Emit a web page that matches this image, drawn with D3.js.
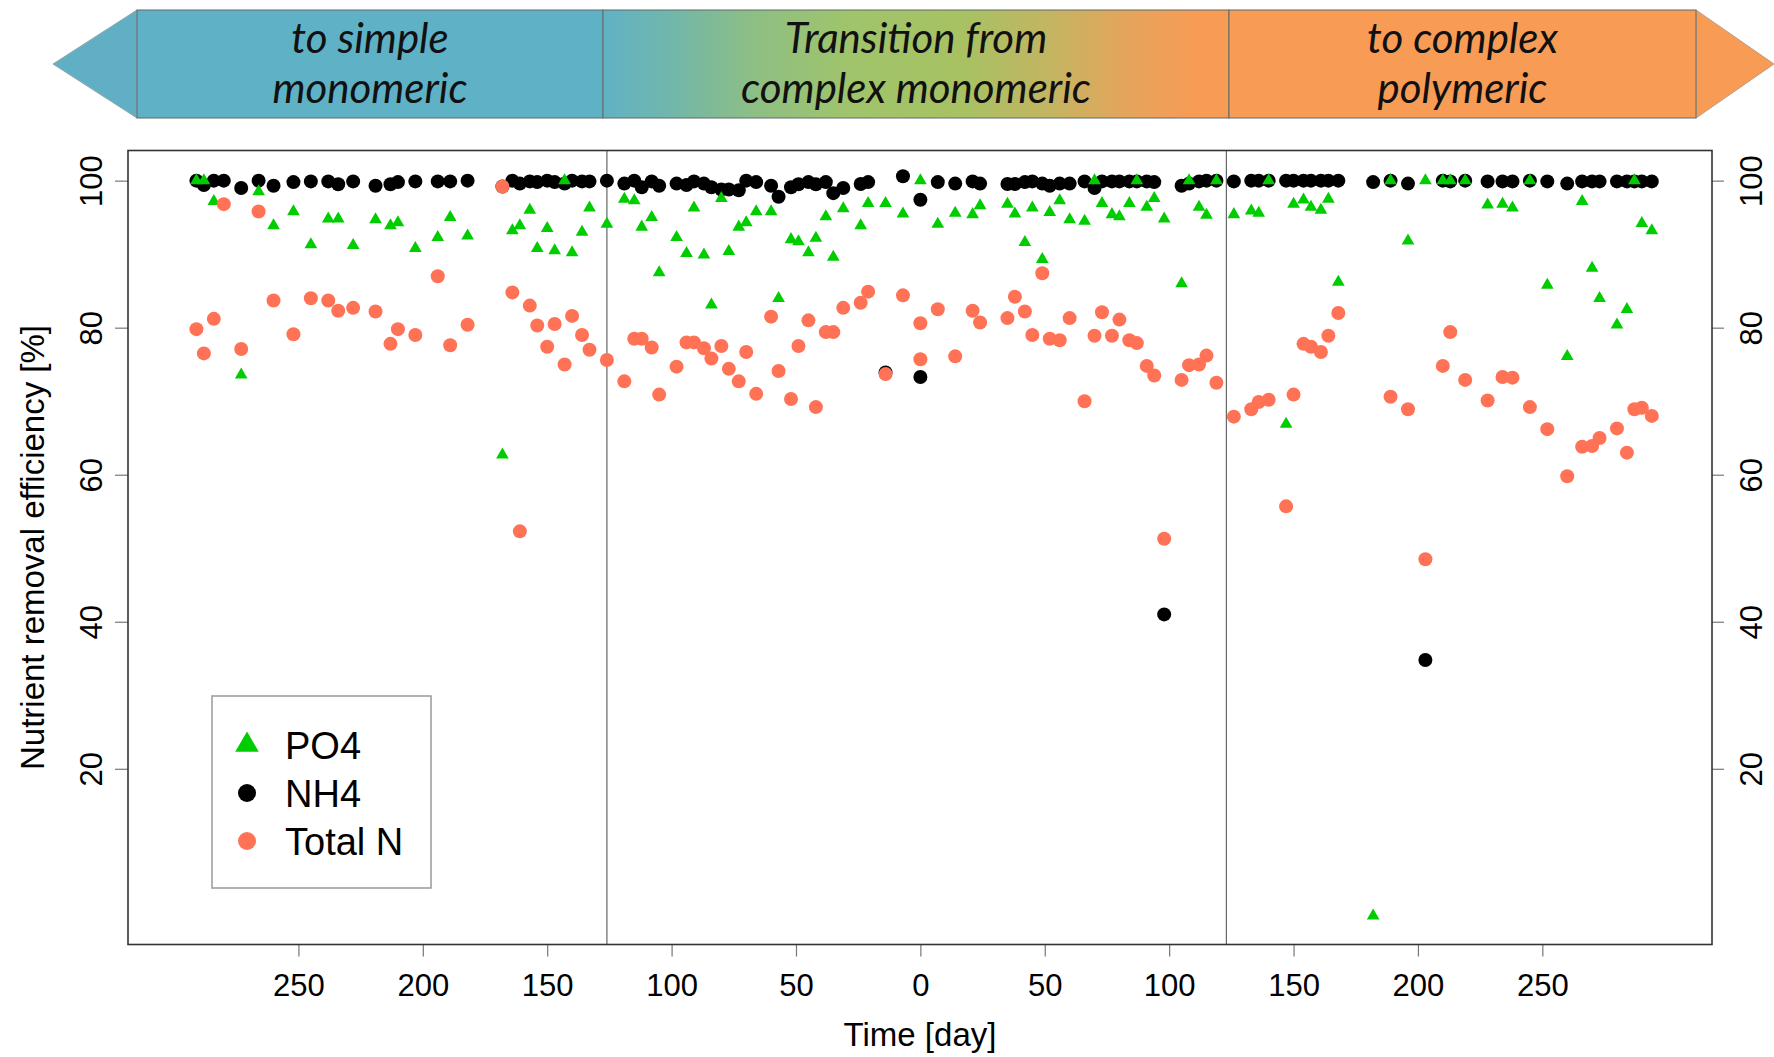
<!DOCTYPE html>
<html>
<head>
<meta charset="utf-8">
<script src="https://cdn.jsdelivr.net/npm/d3@7"></script>
<style>
  body { margin: 0; background: #fff; }
  svg { display: block; }
</style>
</head>
<body>
<svg id="chart" width="1774" height="1057"></svg>
<script>
// sampling day on the plot axis: negative = counted back from the switch at day 0
const days = [-291,-288,-284,-280,-273,-266,-260,-252,-245,-238,-234,-228,-219,-213,-210,-203,-194,-189,
  -182,-168,-164,-161,-157,-154,-150,-147,-143,-140,-136,-133,-126,-119,-115,-112,-108,-105,-98,-94,-91,-87,-84,-80,-77,-73,-70,-66,-60,-57,
  -52,-49,-45,-42,-38,-35,-31,-24,-21,-14,-7,0,0,7,14,21,24,35,38,42,45,49,52,56,60,66,
  70,73,77,80,84,87,91,94,98,105,108,112,115,119,126,133,136,140,147,150,154,157,161,164,168,182,189,196,
  203,210,213,219,228,234,238,245,252,260,266,270,273,280,284,287,290,294];

const po4 = [100,100,97.2,null,73.6,98.5,93.9,95.8,91.3,94.8,94.8,91.2,94.7,93.9,94.3,90.8,92.3,95.0,
  92.5,62.7,93.2,93.9,96.0,90.8,93.5,90.5,100,90.2,93.0,96.3,94.1,97.5,97.3,93.7,95.0,87.5,92.3,90.1,96.3,89.9,83.1,97.6,90.4,93.7,94.3,95.8,95.8,84.0,
  92.0,91.7,90.2,92.2,95.1,89.6,96.2,93.9,96.9,96.9,95.5,100,null,94.1,95.6,95.4,96.6,96.8,95.5,91.6,96.3,89.3,95.7,97.3,94.7,94.5,
  100,96.9,95.4,95.1,96.9,100,96.4,97.6,94.8,86.0,100,96.4,95.3,100,95.4,95.9,95.6,100,66.9,96.8,97.4,96.4,96.0,97.5,86.2,0,100,91.8,
  100,100,100,100,96.7,96.8,96.3,100,85.8,76.1,97.2,88.1,84.0,80.4,82.5,100,94.2,93.2];

const nh4 = [100,99.4,100,100,99.0,100,99.3,99.8,99.9,99.9,99.5,99.9,99.3,99.5,99.8,99.9,99.9,99.9,
  100,99.2,100,99.6,99.9,99.8,100,99.8,99.6,100,99.9,99.9,100,99.6,100,99.1,99.9,99.3,99.6,99.4,99.9,99.6,99.1,98.8,98.8,98.7,100,99.8,99.3,97.8,
  99.1,99.5,99.8,99.5,99.8,98.3,99.0,99.55,99.8,73.9,100.6,97.4,73.3,99.8,99.6,99.9,99.6,99.55,99.55,99.8,99.9,99.6,99.3,99.6,99.6,99.9,
  99.0,99.9,99.9,99.9,99.9,99.9,99.9,99.8,41.0,99.3,99.6,99.9,100,100,99.9,100,100,100,100,100,100,100,100,100,100,99.8,100,99.6,
  34.8,100,99.9,100,99.9,99.9,99.9,100,99.9,99.6,99.9,99.9,99.9,99.9,99.9,99.9,99.9,99.9];

const totalN = [79.8,76.5,81.2,96.8,77.1,95.8,83.7,79.1,84.0,83.7,82.3,82.7,82.2,77.8,79.8,79.0,87.0,77.6,
  80.4,99.2,84.8,52.3,83.0,80.3,77.4,80.5,75.0,81.6,79.0,77.0,75.6,72.7,78.5,78.5,77.3,70.9,74.7,78.0,78.0,77.2,75.8,77.5,74.4,72.7,76.7,71.0,81.5,74.1,
  70.3,77.5,81.0,69.2,79.4,79.4,82.7,83.4,84.9,73.7,84.4,80.6,75.7,82.5,76.1,82.3,80.7,81.3,84.2,82.2,79.0,87.4,78.5,78.3,81.3,70.0,
  78.9,82.1,78.9,81.1,78.3,77.9,74.8,73.5,51.3,72.9,74.9,75.0,76.2,72.5,67.9,68.9,69.9,70.2,55.7,70.9,77.8,77.4,76.7,78.9,82.0,null,70.6,68.9,
  48.5,74.8,79.4,72.9,70.1,73.3,73.2,69.2,66.2,59.8,63.8,63.9,65.0,66.3,63.0,68.9,69.1,68.0];

const xTicks = [-250, -200, -150, -100, -50, 0, 50, 100, 150, 200, 250];
const yTicks = [20, 40, 60, 80, 100];
const phaseBreaks = [-126, 123];
const phaseLabels = [["to simple", "monomeric"], ["Transition from", "complex monomeric"], ["to complex", "polymeric"]];
const seriesNames = ["PO4", "NH4", "Total N"];

const svg = d3.select('#chart');
const box = { left: 128, right: 1712, top: 150.5, bottom: 944.5 };

const x = d3.scaleLinear().domain([-318.5, 318.2]).range([box.left, box.right]);
const y = d3.scaleLinear().domain([-3.9, 104.1]).range([box.bottom, box.top]);

const green = '#00cd00', coral = '#ff7256';
const axisFont = '"Liberation Sans", Arial, sans-serif';

// ---- banner arrow ----
const grad = svg.append('defs').append('linearGradient')
  .attr('id', 'midGrad').attr('x1', '0%').attr('x2', '100%');
[[0, '#60b2c5'], [0.1, '#70b6ad'], [0.25, '#8fbf82'], [0.4, '#a0c46a'], [0.58, '#a8c163'],
 [0.72, '#c5b462'], [0.85, '#e8a35a'], [0.95, '#f79b55']].forEach(([o, c]) => {
  grad.append('stop').attr('offset', o).attr('stop-color', c);
});

const bTop = 10, bBot = 118, bMid = 64;
const sections = [[137, 603], [603, 1229], [1229, 1696]];
const fills = ['#5fb2c6', 'url(#midGrad)', '#f79b55'];

svg.append('polygon')
  .attr('points', `53,${bMid} 137,${bTop} 137,${bBot}`)
  .attr('fill', '#61afc4').attr('stroke', '#8fa9ae').attr('stroke-width', 1);
svg.append('polygon')
  .attr('points', `1696,${bTop} 1774,${bMid} 1696,${bBot}`)
  .attr('fill', '#f79b55').attr('stroke', '#b9a08c').attr('stroke-width', 1);

sections.forEach((s, i) => {
  svg.append('rect')
    .attr('x', s[0]).attr('y', bTop).attr('width', s[1] - s[0]).attr('height', bBot - bTop)
    .attr('fill', fills[i]).attr('stroke', '#5f6b6b').attr('stroke-width', 1);
  const t = svg.append('text')
    .attr('text-anchor', 'middle')
    .attr('font-family', 'Lato, "Open Sans", sans-serif')
    .attr('font-style', 'italic')
    .attr('font-size', 42)
    .attr('fill', '#111');
  phaseLabels[i].forEach((line, j) => {
    t.append('tspan').attr('x', (s[0] + s[1]) / 2).attr('y', 53 + j * 50).text(line);
  });
});

// ---- plot frame and phase separators ----
svg.selectAll('.phase').data(phaseBreaks).enter().append('line')
  .attr('x1', d => x(d)).attr('x2', d => x(d))
  .attr('y1', box.top).attr('y2', box.bottom)
  .attr('stroke', '#666').attr('stroke-width', 1.2);

// ---- axes ----
function styleAxis(g) {
  g.select('.domain').remove();
  g.selectAll('.tick line').attr('stroke', '#777').attr('stroke-width', 1.2);
  g.selectAll('text').attr('font-family', axisFont).attr('font-size', 31).attr('fill', '#000');
}

svg.append('g')
  .attr('transform', `translate(0,${box.bottom})`)
  .call(d3.axisBottom(x).tickValues(xTicks).tickFormat(d => Math.abs(d)).tickSize(12).tickPadding(17))
  .call(styleAxis);

svg.append('g')
  .attr('transform', `translate(${box.left},0)`)
  .call(d3.axisLeft(y).tickValues(yTicks).tickSize(13))
  .call(styleAxis)
  .selectAll('text')
  .attr('x', null).attr('dy', '0.36em').attr('text-anchor', 'middle')
  .attr('transform', 'translate(-37.5,0) rotate(-90)');

svg.append('g')
  .attr('transform', `translate(${box.right},0)`)
  .call(d3.axisRight(y).tickValues(yTicks).tickSize(12))
  .call(styleAxis)
  .selectAll('text')
  .attr('x', null).attr('dy', '0.36em').attr('text-anchor', 'middle')
  .attr('transform', 'translate(39,0) rotate(-90)');

svg.append('text')
  .attr('x', (box.left + box.right) / 2).attr('y', 1046)
  .attr('text-anchor', 'middle')
  .attr('font-family', axisFont).attr('font-size', 33)
  .text('Time [day]');

svg.append('text')
  .attr('transform', `translate(32,${(box.top + box.bottom) / 2}) rotate(-90)`)
  .attr('dy', '0.36em')
  .attr('text-anchor', 'middle')
  .attr('font-family', axisFont).attr('font-size', 33)
  .text('Nutrient removal efficiency [%]');

// ---- points ----
const pts = vals => days.map((d, i) => ({ d, v: vals[i] })).filter(p => p.v !== null);
const tri = d3.symbol(d3.symbolTriangle, 70);

svg.append('g').selectAll('circle').data(pts(nh4)).enter().append('circle')
  .attr('cx', p => x(p.d)).attr('cy', p => y(p.v)).attr('r', 7)
  .attr('fill', '#000');

svg.append('g').selectAll('path').data(pts(po4)).enter().append('path')
  .attr('d', tri)
  .attr('transform', p => `translate(${x(p.d)},${y(p.v)})`)
  .attr('fill', green);

svg.append('g').selectAll('circle').data(pts(totalN)).enter().append('circle')
  .attr('cx', p => x(p.d)).attr('cy', p => y(p.v)).attr('r', 7)
  .attr('fill', coral);

svg.append('rect')
  .attr('x', box.left).attr('y', box.top)
  .attr('width', box.right - box.left).attr('height', box.bottom - box.top)
  .attr('fill', 'none').attr('stroke', '#333').attr('stroke-width', 1.6);

// ---- legend ----
const leg = svg.append('g');
leg.append('rect')
  .attr('x', 212).attr('y', 696).attr('width', 219).attr('height', 192)
  .attr('fill', '#fff').attr('stroke', '#999').attr('stroke-width', 1.5);

const legRows = [745, 793, 841];
const legColors = [green, '#000', coral];
seriesNames.forEach((name, i) => {
  if (i === 0) {
    leg.append('path')
      .attr('d', d3.symbol(d3.symbolTriangle, 240)())
      .attr('transform', `translate(247,${legRows[i]})`)
      .attr('fill', legColors[i]);
  } else {
    leg.append('circle')
      .attr('cx', 247).attr('cy', legRows[i]).attr('r', 9)
      .attr('fill', legColors[i]);
  }
  leg.append('text')
    .attr('x', 285).attr('y', legRows[i] + 13.5)
    .attr('font-family', axisFont).attr('font-size', 38)
    .text(name);
});
</script>
</body>
</html>
